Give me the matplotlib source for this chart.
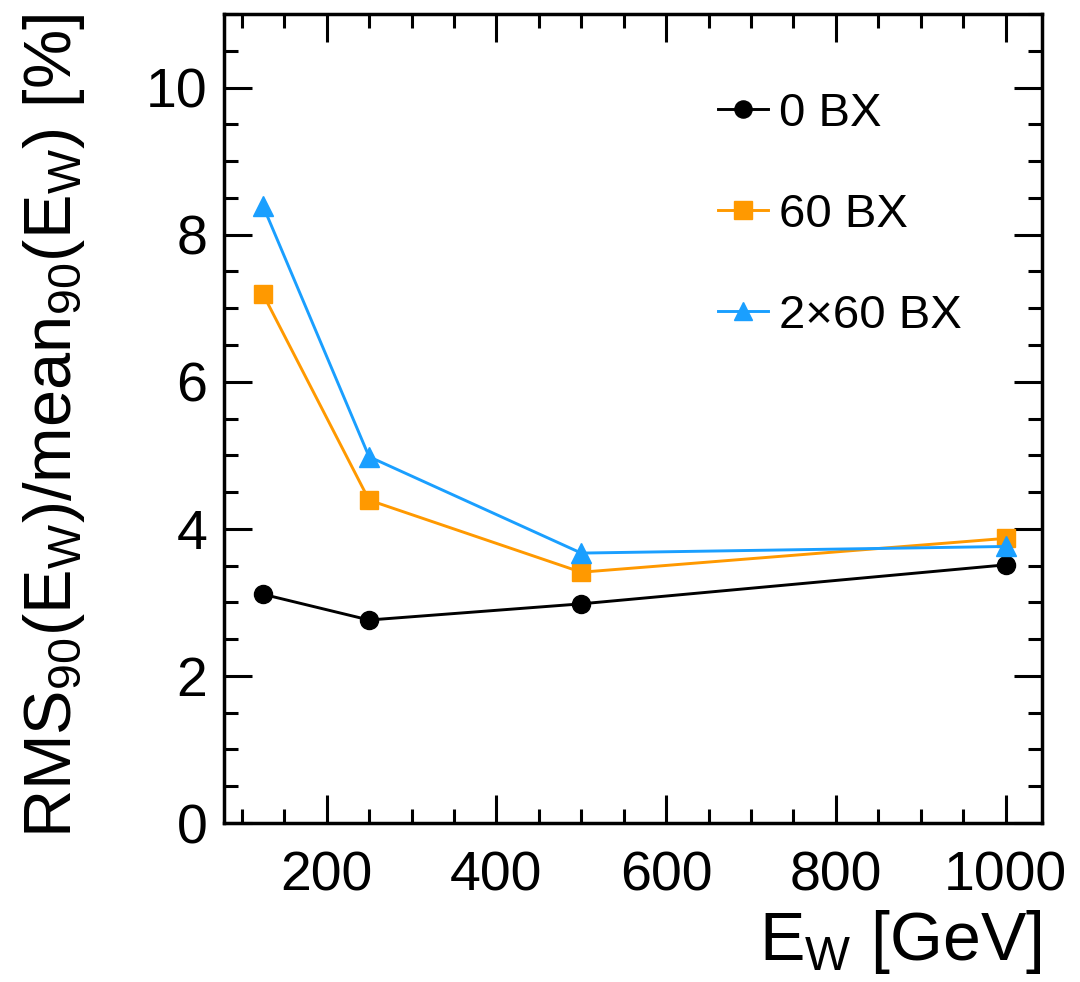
import matplotlib
matplotlib.use("Agg")
import matplotlib.pyplot as plt
from matplotlib.ticker import MultipleLocator

energy = [125, 250, 500, 1000]
bx0 = [3.11, 2.76, 2.98, 3.51]
bx60 = [7.19, 4.39, 3.41, 3.87]
bx2x60 = [8.39, 4.98, 3.67, 3.76]
labels = ["0 BX", "60 BX", "2\u00d760 BX"]

plt.rcParams['font.family'] = ['Liberation Sans', 'DejaVu Sans']
plt.rcParams['mathtext.fontset'] = 'custom'
plt.rcParams['mathtext.rm'] = 'Liberation Sans'
plt.rcParams['mathtext.it'] = 'Liberation Sans:italic'

fig = plt.figure(figsize=(10.8, 9.82), dpi=100)
ax = fig.add_axes([224/1080, 1-823/982, (1042-224)/1080, (823-14)/982])

lw = 2.1
ax.plot(energy, bx0, color='black', lw=lw, marker='o', ms=13, label=labels[0])
ax.plot(energy, bx60, color='#ff9900', lw=lw, marker='s', ms=13, label=labels[1])
ax.plot(energy, bx2x60, color='#1a9fff', lw=lw, marker='^', ms=14, label=labels[2])

ax.set_xlim(79, 1043)
ax.set_ylim(0, 11)
ax.xaxis.set_major_locator(MultipleLocator(200))
ax.xaxis.set_minor_locator(MultipleLocator(50))
ax.yaxis.set_major_locator(MultipleLocator(2))
ax.yaxis.set_minor_locator(MultipleLocator(0.5))
ax.tick_params(which='both', direction='in', top=True, right=True, width=2.2)
ax.tick_params(which='major', length=20, labelsize=40)
ax.tick_params(which='minor', length=10)
ax.tick_params(axis='x', which='major', pad=20)
ax.tick_params(axis='y', which='major', pad=12)
for s in ax.spines.values():
    s.set_linewidth(2.5)

ax.set_xlabel(r'E$_{\mathrm{W}}$ [GeV]', fontsize=49, loc='right', labelpad=4)
ax.set_ylabel(r'RMS$_{\mathrm{90}}$(E$_{\mathrm{W}}$)/mean$_{\mathrm{90}}$(E$_{\mathrm{W}}$) [%]',
              fontsize=48, loc='top', labelpad=42)

ax.legend(loc='upper left', bbox_to_anchor=(0.604, 0.904), frameon=False,
          fontsize=34, handlelength=1.05, handletextpad=0.25, labelspacing=1.21,
          borderpad=0, borderaxespad=0, markerscale=0.95)

fig.savefig('out.png', dpi=100)
